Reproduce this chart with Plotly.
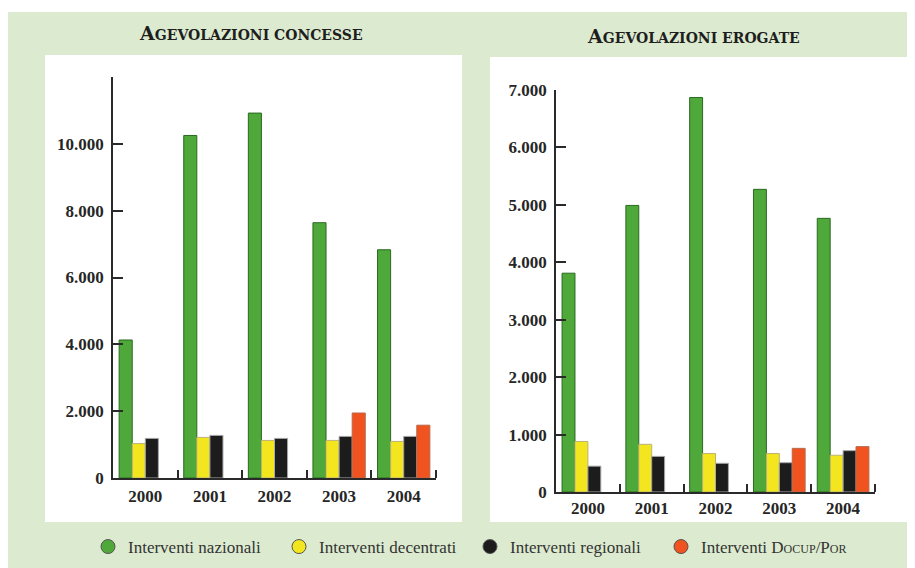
import plotly.graph_objects as go
from plotly.subplots import make_subplots

# dati (valori in unità)
anni = ['2000', '2001', '2002', '2003', '2004']

concesse_nazionali = [4130, 10250, 10920, 7640, 6830]
concesse_decentrati = [1030, 1215, 1125, 1125, 1095]
concesse_regionali = [1185, 1275, 1185, 1245, 1245]
concesse_docup = [None, None, None, 1945, 1580]

erogate_nazionali = [3810, 4990, 6870, 5270, 4765]
erogate_decentrati = [880, 830, 670, 670, 640]
erogate_regionali = [450, 620, 500, 510, 720]
erogate_docup = [None, None, None, 760, 790]

ticks_concesse = [0, 2000, 4000, 6000, 8000, 10000, 12000]
ticks_erogate = [0, 1000, 2000, 3000, 4000, 5000, 6000, 7000]

serie = [
    ('Interventi nazionali', '#4ea83a', '#2a6a20'),
    ('Interventi decentrati', '#f3e61e', '#b9b27a'),
    ('Interventi regionali', '#1c1c1c', '#a8a8a8'),
    ('Interventi D<span style="font-size:12px">OCUP</span>/P<span style="font-size:12px">OR</span>', '#f0531f', '#b7694a'),
]

BG = '#dcebcf'
FONT = 'Liberation Serif'
TITLE_FONT = 'DejaVu Serif'
# la pagina ha 8px di margine nel body: la figura parte da (8, 8)
OFF = 8
W, H = 915 - OFF, 568 - OFF


def fmt(v):
    return f'{v:,}'.replace(',', '.')


def px_x(p):
    return (p - OFF) / W


def px_y(p):
    return 1 - (p - OFF) / H


fig = make_subplots(rows=1, cols=2)

pos = list(range(len(anni)))
for col, valori in ((1, [concesse_nazionali, concesse_decentrati, concesse_regionali, concesse_docup]),
                    (2, [erogate_nazionali, erogate_decentrati, erogate_regionali, erogate_docup])):
    for (nome, colore, bordo), y in zip(serie, valori):
        fig.add_trace(
            go.Bar(
                x=pos, y=y, name=nome, showlegend=False,
                marker=dict(color=colore, line=dict(color=bordo, width=1)),
            ),
            row=1, col=col,
        )

# voci di legenda con pallini
for nome, colore, bordo in serie:
    fig.add_trace(go.Scatter(
        x=[None], y=[None], mode='markers', name=nome,
        marker=dict(symbol='circle', size=14, color=colore, line=dict(color='#555', width=1)),
    ))

fig.update_layout(
    width=W, height=H,
    barmode='group', bargap=0.19, bargroupgap=0,
    paper_bgcolor=BG, plot_bgcolor='rgba(0,0,0,0)',
    margin=dict(l=0, r=0, t=0, b=0, autoexpand=False),
    font=dict(family=FONT, color='#2b2b2b', size=15),
    legend=dict(
        orientation='h', x=px_x(88), y=px_y(547), xanchor='left', yanchor='middle',
        entrywidth=146, entrywidthmode='pixels', itemwidth=30,
        font=dict(family=FONT, size=17, color='#333'), bgcolor='rgba(0,0,0,0)',
    ),
    shapes=[
        dict(type='rect', xref='paper', yref='paper', x0=0, x1=1, y0=px_y(12), y1=1,
             fillcolor='white', line_width=0, layer='below'),
        dict(type='rect', xref='paper', yref='paper', x0=px_x(45), x1=px_x(462), y0=px_y(522), y1=px_y(55),
             fillcolor='white', line_width=0, layer='below'),
        dict(type='rect', xref='paper', yref='paper', x0=px_x(490), x1=px_x(908), y0=px_y(522), y1=px_y(57),
             fillcolor='white', line_width=0, layer='below'),
    ],
    annotations=[
        dict(text='<b>A<span style="font-size:14px">GEVOLAZIONI CONCESSE</span></b>', xref='paper', yref='paper',
             x=px_x(251), y=px_y(33), xanchor='center', yanchor='middle', showarrow=False,
             font=dict(family=TITLE_FONT, size=19, color='#1e1e1e')),
        dict(text='<b>A<span style="font-size:14px">GEVOLAZIONI EROGATE</span></b>', xref='paper', yref='paper',
             x=px_x(693), y=px_y(36), xanchor='center', yanchor='middle', showarrow=False,
             font=dict(family=TITLE_FONT, size=19, color='#1e1e1e')),
    ],
)

asse = dict(showline=True, linecolor='#2a2a2a', linewidth=1.5, showgrid=False, zeroline=False,
            tickfont=dict(family=FONT, size=17, color='#262626', weight='bold'))

fig.update_xaxes(
    **asse, range=[-0.5, len(anni) - 0.5], tickmode='array', tickvals=pos, ticktext=anni, ticks='',
    minor=dict(tickmode='array', tickvals=[p + 0.5 for p in pos], ticks='inside', ticklen=8,
               tickwidth=1.5, tickcolor='#2a2a2a'),
)
fig.update_yaxes(**asse, ticks='inside', ticklen=10, tickwidth=1.5, tickcolor='#2a2a2a')

fig.update_layout(
    xaxis=dict(domain=[px_x(113), px_x(436)], ticklabelstandoff=2),
    yaxis=dict(domain=[px_y(478), px_y(77)], range=[0, 12000], tickmode='array', tickvals=ticks_concesse,
               ticktext=[fmt(v) if v < 12000 else '' for v in ticks_concesse], ticklabelstandoff=4),
    xaxis2=dict(domain=[px_x(556), px_x(875)], ticklabelstandoff=0),
    yaxis2=dict(domain=[px_y(492), px_y(90)], range=[0, 7000], tickmode='array', tickvals=ticks_erogate,
                ticktext=[fmt(v) for v in ticks_erogate], ticklabelstandoff=4),
)

fig.write_html('out.html')
